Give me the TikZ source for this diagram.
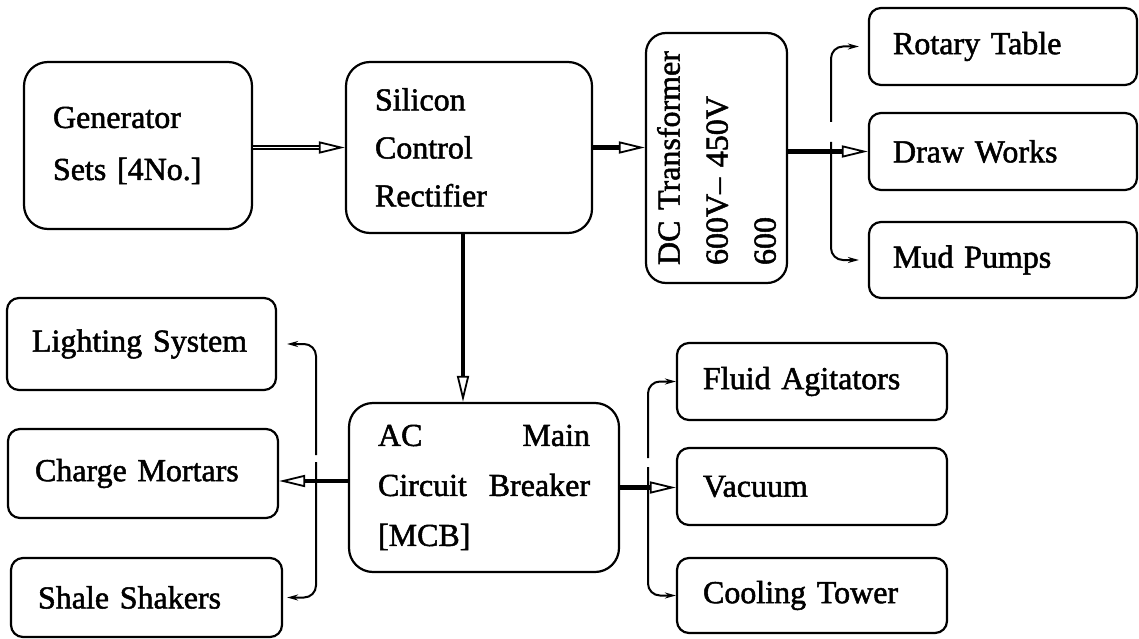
\documentclass[tikz,border=0pt]{standalone}
\usepackage{fontspec}
\setmainfont{Liberation Serif}[FakeBold=1.6]
\usetikzlibrary{arrows.meta,calc}
\begin{document}
\begin{tikzpicture}[x=1pt,y=-1pt,
  box/.style={draw, line width=2.2pt, rounded corners=#1, align=left,
    font=\fontsize{32}{48}\selectfont, inner ysep=0pt},
  box/.default=12pt,
  mainarrow/.style={line width=4.5pt,
    -{Triangle[open, length=26pt, width=12pt, line width=1.8pt]}},
  tiponly/.style={line width=1.5pt,
    -{Triangle[open, length=26pt, width=12pt, line width=1.8pt]}},
  dblshaft/.style={line width=1.4pt, double, double distance=1.6pt},
  branch/.style={line width=2pt, rounded corners=12pt,
    -{Stealth[length=11pt, width=6pt]}}
]
\useasboundingbox (0,0) rectangle (1139,639);

% main boxes
\node[box=24pt, minimum width=228pt, minimum height=167pt, text width=170pt,
  inner xsep=29pt, font=\fontsize{32}{52}\selectfont] (gen) at (138,145.5)
  {Generator\\Sets [4No.]};
\node[box=24pt, minimum width=246pt, minimum height=171pt, text width=188pt,
  inner xsep=29pt] (scr) at (469,147.5)
  {Silicon\\Control\\Rectifier};
\node[box=20pt, rotate=90, minimum width=250pt, minimum height=141pt,
  text width=214pt, inner xsep=18pt] (dc) at (716.5,158)
  {DC Transformer\\600V\textendash\ 450V\\600};
\node[box=24pt, minimum width=270pt, minimum height=169pt, text width=212pt,
  inner xsep=29pt, font=\fontsize{32}{50}\selectfont] (ac) at (484,487.5)
  {AC\hfill Main\\Circuit\hfill Breaker\\{[MCB]}};

% right upper boxes
\node[box, minimum width=268pt, minimum height=77pt, text width=220pt, inner xsep=24pt]
  (rot) at (1003,46.5) {Rotary Table};
\node[box, minimum width=268pt, minimum height=77pt, text width=220pt, inner xsep=24pt]
  (draw) at (1003,151.5) {Draw Works};
\node[box, minimum width=268pt, minimum height=76pt, text width=220pt, inner xsep=24pt]
  (mud) at (1003,260) {Mud Pumps};

% left boxes
\node[box, minimum width=269pt, minimum height=92pt, text width=219pt, inner xsep=25pt]
  (light) at (141.5,344) {Lighting System};
\node[box, minimum width=270pt, minimum height=89pt, text width=216pt, inner xsep=27pt]
  (charge) at (143,473.5) {Charge Mortars};
\node[box, minimum width=271pt, minimum height=79pt, text width=217pt, inner xsep=27pt]
  (shale) at (146.5,597.5) {Shale Shakers};

% right lower boxes
\node[box, minimum width=270pt, minimum height=77pt, text width=218pt, inner xsep=26pt]
  (fluid) at (812,381.5) {Fluid Agitators};
\node[box, minimum width=270pt, minimum height=77pt, text width=218pt, inner xsep=26pt]
  (vac) at (812,486.5) {Vacuum};
\node[box, minimum width=270pt, minimum height=75pt, text width=218pt, inner xsep=26pt]
  (cool) at (812,595.5) {Cooling Tower};

% generator -> SCR (double line)
\draw[dblshaft] (gen.east |- scr.west) -- ([xshift=-25pt]scr.west);
\draw[tiponly] ([xshift=-26pt]scr.west) -- (scr.west);

% SCR -> DC (rotated node: north is its left side, south its right side)
\draw[mainarrow] (scr.east) -- (scr.east -| dc.north);

% DC -> Draw Works
\draw[mainarrow] (dc.south |- draw.west) -- (draw.west);

% SCR -> AC
\coordinate (vtop) at ([xshift=-6pt]scr.south);
\draw[mainarrow] (vtop) -- (vtop |- ac.north);

% AC -> Charge Mortars
\coordinate (lstart) at ([yshift=6.5pt]ac.west);
\draw[mainarrow] (lstart) -- (lstart -| charge.east);

% AC -> Vacuum
\draw[mainarrow] (ac.east) -- (ac.east -| vac.west);

% branches right upper
\coordinate (rj) at (831,150);
\draw[branch, shorten >=9pt] ([yshift=28pt]rj) |- (rot.west);
\draw[branch, shorten >=9pt] ([yshift=8pt]rj) |- (mud.west);

% branches left
\coordinate (lj) at (316,481);
\draw[branch, shorten >=10pt] ([yshift=26pt]lj) |- (light.east);
\draw[branch, shorten >=4pt] ([yshift=19pt]lj) |- (shale.east);

% branches right lower
\coordinate (rl) at (648,488);
\draw[branch] ([yshift=30pt]rl) |- (fluid.west);
\draw[branch] ([yshift=21pt]rl) |- (cool.west);
\end{tikzpicture}
\end{document}
